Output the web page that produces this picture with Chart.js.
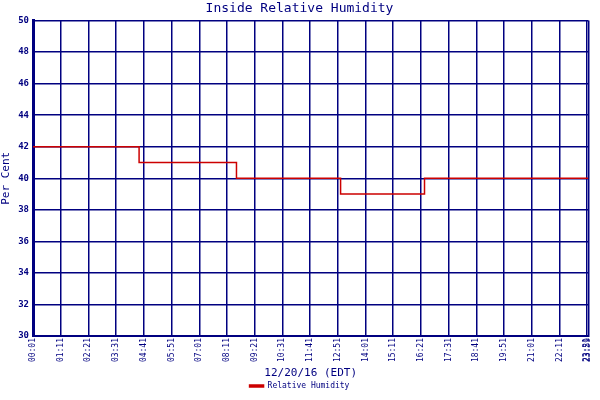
<!DOCTYPE html>
<html>
<head>
<meta charset="utf-8">
<script src="https://cdn.jsdelivr.net/npm/chart.js@4/dist/chart.umd.min.js"></script>
<style>
  html, body { margin: 0; padding: 0; background: #fff; }
  #wrap { width: 600px; height: 400px; }
</style>
</head>
<body>
<div id="wrap"><canvas id="chart"></canvas></div>
<script>
// Minutes after midnight where the reading changes, and the reading itself
const stepMinutes = [1, 269, 515, 778, 990, 1404];
const humidity = [42, 41, 40, 39, 40, 40];

// X tick positions (minutes) and their labels
const tickMinutes = [1, 71, 141, 211, 281, 351, 421, 491, 561, 631, 701, 771, 841, 911, 981, 1051, 1121, 1191, 1261, 1331, 1401, 1404];
const tickLabels = ['00:01', '01:11', '02:21', '03:31', '04:41', '05:51', '07:01', '08:11', '09:21', '10:31', '11:41',
    '12:51', '14:01', '15:11', '16:21', '17:31', '18:41', '19:51', '21:01', '22:11', '23:21', '23:59'];

const NAVY = '#000080';
const FONT = 'DejaVu Sans Mono';

const points = stepMinutes.map((m, i) => ({ x: m, y: humidity[i] }));

new Chart(document.getElementById('chart'), {
    type: 'line',
    data: {
        datasets: [{
            label: 'Relative Humidity',
            data: points,
            stepped: 'before',
            borderColor: '#cc0000',
            backgroundColor: '#cc0000',
            borderWidth: 1.5,
            pointRadius: 0,
            fill: false
        }]
    },
    options: {
        responsive: true,
        maintainAspectRatio: false,
        animation: false,
        layout: { padding: { right: 1, top: 0, bottom: 0 } },
        plugins: {
            title: {
                display: true,
                text: 'Inside Relative Humidity',
                color: NAVY,
                font: { family: FONT, size: 13, weight: 'normal' },
                padding: { top: 1, bottom: 4 }
            },
            legend: {
                position: 'bottom',
                labels: {
                    color: NAVY,
                    font: { family: FONT, size: 8 },
                    boxWidth: 14,
                    boxHeight: 2,
                    padding: 2
                }
            },
            tooltip: { enabled: false }
        },
        scales: {
            x: {
                type: 'linear',
                min: 1,
                max: 1404,
                afterBuildTicks: (scale) => {
                    scale.ticks = tickMinutes.map(v => ({ value: v }));
                },
                afterFit: (scale) => { scale.height = 44; },
                ticks: {
                    autoSkip: false,
                    minRotation: 90,
                    maxRotation: 90,
                    color: NAVY,
                    font: { family: FONT, size: 8 },
                    padding: 2,
                    callback: (value) => {
                        const i = tickMinutes.indexOf(value);
                        return i >= 0 ? tickLabels[i] : '';
                    }
                },
                grid: { color: NAVY, lineWidth: 1.5, drawTicks: false },
                border: { color: NAVY, width: 2 },
                title: {
                    display: true,
                    text: '12/20/16 (EDT)',
                    color: NAVY,
                    font: { family: FONT, size: 11 },
                    padding: { top: 2, bottom: 0 }
                }
            },
            y: {
                min: 30,
                max: 50,
                afterFit: (scale) => { scale.width = 33; },
                ticks: {
                    stepSize: 2,
                    color: NAVY,
                    font: { family: FONT, size: 9, weight: 'bold' },
                    padding: 4
                },
                grid: { color: NAVY, lineWidth: 1.5, drawTicks: false },
                border: { color: NAVY, width: 3 },
                title: {
                    display: true,
                    text: 'Per Cent',
                    color: NAVY,
                    font: { family: FONT, size: 11 },
                    padding: 0
                }
            }
        }
    }
});
</script>
</body>
</html>
